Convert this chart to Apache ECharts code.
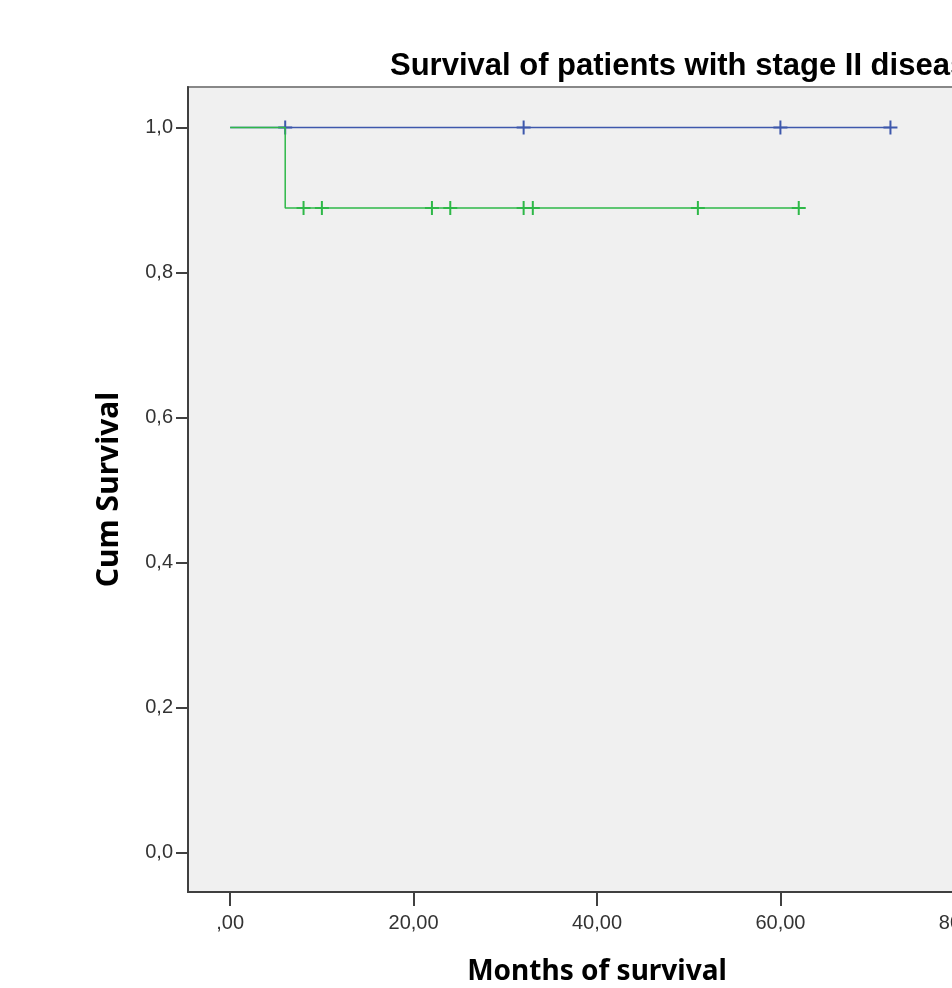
<!DOCTYPE html>
<html>
<head>
<meta charset="utf-8">
<script src="https://cdn.jsdelivr.net/npm/echarts@6/dist/echarts.min.js"></script>
<style>
  html, body { margin: 0; padding: 0; overflow: hidden; background: #ffffff; }
  #chart { width: 1100px; height: 988px; }
</style>
</head>
<body>
<div id="chart"></div>
<script>
// Kaplan-Meier curves (months, cumulative survival)
const blueCurve = [[0, 1.0], [72, 1.0]];
const greenCurve = [[0, 1.0], [6, 1.0], [6, 0.889], [62, 0.889]];

// Censored observations
const blueCensorMonths = [6, 32, 60, 72];
const blueCensorSurvival = [1.0, 1.0, 1.0, 1.0];
const greenCensorMonths = [8, 10, 22, 24, 32, 33, 51, 62];
const greenCensorSurvival = [0.889, 0.889, 0.889, 0.889, 0.889, 0.889, 0.889, 0.889];

// Axis tick values
const xTicks = [0, 20, 40, 60, 80];
const yTicks = [0, 0.2, 0.4, 0.6, 0.8, 1.0];

const BLUE = '#3E58AC';
const GREEN = '#2EB848';
const plus = 'path://M6,0 H8 V14 H6 Z M0,6 H14 V8 H0 Z';

const zip = (xs, ys) => xs.map((x, i) => [x, ys[i]]);

const chart = echarts.init(document.getElementById('chart'), null, { renderer: 'canvas' });

const fmtX = v => {
  const s = Number(v).toFixed(2).replace('.', ',');
  return s.startsWith('0,') ? s.slice(1) : s;
};
const fmtY = v => Number(v).toFixed(1).replace('.', ',');

chart.setOption({
  animation: false,
  backgroundColor: '#ffffff',
  title: {
    text: 'Survival of patients with stage II disease',
    left: 390,
    top: 51,
    padding: 0,
    textStyle: {
      fontFamily: 'Liberation Sans',
      fontWeight: 'bold',
      fontSize: 31,
      color: '#000000'
    }
  },
  grid: {
    left: 188,
    right: 94,
    top: 87,
    bottom: 96,
    containLabel: false,
    outerBoundsMode: 'none',
    show: true,
    backgroundColor: '#F0F0F0',
    borderColor: '#888888',
    borderWidth: 2
  },
  xAxis: {
    type: 'value',
    min: -4.6,
    max: 84.6,
    name: 'Months of survival',
    nameLocation: 'middle',
    nameGap: 66,
    nameTextStyle: {
      fontFamily: 'Noto Sans',
      fontWeight: 'bold',
      fontSize: 28,
      color: '#000000'
    },
    axisLine: { onZero: false, lineStyle: { color: '#404040', width: 2 } },
    axisTick: { show: true, customValues: xTicks, length: 14, lineStyle: { color: '#404040', width: 2 } },
    axisLabel: {
      customValues: xTicks,
      margin: 21,
      formatter: fmtX,
      fontFamily: 'Liberation Sans',
      fontSize: 20,
      color: '#333333'
    },
    splitLine: { show: false }
  },
  yAxis: {
    type: 'value',
    min: -0.054,
    max: 1.056,
    name: 'Cum Survival',
    nameLocation: 'middle',
    nameGap: 64,
    nameRotate: 90,
    nameTextStyle: {
      fontFamily: 'Noto Sans',
      fontWeight: 'bold',
      fontSize: 30,
      color: '#000000'
    },
    axisLine: { show: true, onZero: false, lineStyle: { color: '#404040', width: 2 } },
    axisTick: { show: true, customValues: yTicks, length: 12, lineStyle: { color: '#404040', width: 2 } },
    axisLabel: {
      customValues: yTicks,
      margin: 15,
      padding: [6, 0, 0, 0],
      formatter: fmtY,
      fontFamily: 'Liberation Sans',
      fontSize: 20,
      color: '#333333'
    },
    splitLine: { show: false }
  },
  series: [
    {
      name: 'blue',
      type: 'line',
      data: blueCurve,
      symbol: 'none',
      lineStyle: { color: BLUE, width: 1.5 },
      z: 2
    },
    {
      name: 'blueCensor',
      type: 'scatter',
      data: zip(blueCensorMonths, blueCensorSurvival),
      symbol: plus,
      symbolSize: 14,
      itemStyle: { color: BLUE, opacity: 1 },
      z: 3
    },
    {
      name: 'green',
      type: 'line',
      data: greenCurve,
      symbol: 'none',
      lineStyle: { color: GREEN, width: 1.5 },
      z: 4
    },
    {
      name: 'greenCensor',
      type: 'scatter',
      data: zip(greenCensorMonths, greenCensorSurvival),
      symbol: plus,
      symbolSize: 14,
      itemStyle: { color: GREEN, opacity: 1 },
      z: 5
    }
  ]
});
</script>
</body>
</html>
